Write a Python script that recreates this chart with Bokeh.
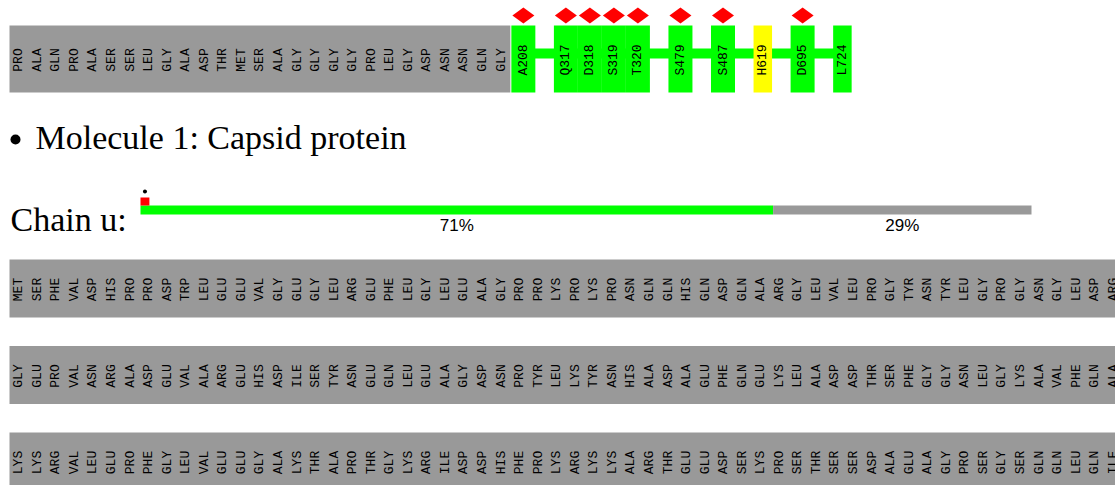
import math
from bokeh.plotting import figure
from bokeh.models import Range1d
from bokeh.core.properties import value
from bokeh.embed import file_html
from bokeh.resources import INLINE

# ---------------- data ----------------
top_grey_residues = ["PRO", "ALA", "GLN", "PRO", "ALA", "SER", "SER", "LEU", "GLY", "ALA",
                     "ASP", "THR", "MET", "SER", "ALA", "GLY", "GLY", "GLY", "GLY", "PRO",
                     "LEU", "GLY", "ASP", "ASN", "ASN", "GLN", "GLY"]
hl_labels = ["A208", "Q317", "D318", "S319", "T320", "S479", "S487", "H619", "D695", "L724"]
hl_numbers = [208, 317, 318, 319, 320, 479, 487, 619, 695, 724]
hl_colors = ["#00ff00", "#00ff00", "#00ff00", "#00ff00", "#00ff00", "#00ff00", "#00ff00",
             "#ffff00", "#00ff00", "#00ff00"]
hl_outlier = [True, True, True, True, True, True, True, False, True, False]

molecule_title = "Molecule 1: Capsid protein"
chain_label = "Chain u:"
chain_fracs = [71, 29]
chain_frac_labels = ["71%", "29%"]
chain_frac_colors = ["#00ff00", "#999999"]
chain_outlier_frac = [1.0]

seq_row1 = ["MET", "SER", "PHE", "VAL", "ASP", "HIS", "PRO", "PRO", "ASP", "TRP",
            "LEU", "GLU", "GLU", "VAL", "GLY", "GLU", "GLY", "LEU", "ARG", "GLU",
            "PHE", "LEU", "GLY", "LEU", "GLU", "ALA", "GLY", "PRO", "PRO", "LYS",
            "PRO", "LYS", "PRO", "ASN", "GLN", "GLN", "HIS", "GLN", "ASP", "GLN",
            "ALA", "ARG", "GLY", "LEU", "VAL", "LEU", "PRO", "GLY", "TYR", "ASN",
            "TYR", "LEU", "GLY", "PRO", "GLY", "ASN", "GLY", "LEU", "ASP", "ARG"]
seq_row2 = ["GLY", "GLU", "PRO", "VAL", "ASN", "ARG", "ALA", "ASP", "GLU", "VAL",
            "ALA", "ARG", "GLU", "HIS", "ASP", "ILE", "SER", "TYR", "ASN", "GLU",
            "GLN", "LEU", "GLU", "ALA", "GLY", "ASP", "ASN", "PRO", "TYR", "LEU",
            "LYS", "TYR", "ASN", "HIS", "ALA", "ASP", "ALA", "GLU", "PHE", "GLN",
            "GLU", "LYS", "LEU", "ALA", "ASP", "ASP", "THR", "SER", "PHE", "GLY",
            "GLY", "ASN", "LEU", "GLY", "LYS", "ALA", "VAL", "PHE", "GLN", "ALA"]
seq_row3 = ["LYS", "LYS", "ARG", "VAL", "LEU", "GLU", "PRO", "PHE", "GLY", "LEU",
            "VAL", "GLU", "GLU", "GLY", "ALA", "LYS", "THR", "ALA", "PRO", "THR",
            "GLY", "LYS", "ARG", "ILE", "ASP", "ASP", "HIS", "PHE", "PRO", "LYS",
            "ARG", "LYS", "LYS", "ALA", "ARG", "THR", "GLU", "GLU", "ASP", "SER",
            "LYS", "PRO", "SER", "THR", "SER", "SER", "ASP", "ALA", "GLU", "ALA",
            "GLY", "PRO", "SER", "GLY", "SER", "GLN", "GLN", "LEU", "GLN", "ILE"]

# ---------------- layout ----------------
W, H = 1115, 485
GREY = "#999999"
SLOT = 18.55
X0 = 9.0
MONO = value("Liberation Mono")
SERIF = value("Liberation Serif")
SANS = value("Liberation Sans")

p = figure(width=W, height=H, x_range=Range1d(0, W), y_range=Range1d(H, 0),
           output_backend="svg", toolbar_location=None, min_border=0)
p.axis.visible = False
p.grid.visible = False
p.outline_line_color = None
p.background_fill_color = "white"


def residue_row(names, y_top, height):
    n = len(names)
    p.quad(left=[X0], right=[X0 + n * SLOT], top=[y_top], bottom=[y_top + height],
           fill_color=GREY, line_color=None)
    xs = [X0 + (i + 0.5) * SLOT for i in range(n)]
    ys = [y_top + height / 2 + 1] * n
    p.text(x=xs, y=ys, text=names, angle=math.pi / 2, text_font=MONO,
           text_font_size="13px", text_align="center", text_baseline="middle",
           text_color="black")


# top strip
TOP_Y, TOP_H = 25, 67
residue_row(top_grey_residues, TOP_Y, TOP_H)

# highlighted residues
lefts, rights = [], []
x = X0 + len(top_grey_residues) * SLOT + 1
for i, num in enumerate(hl_numbers):
    if i > 0 and num != hl_numbers[i - 1] + 1:
        x += SLOT
    w = 24 if hl_outlier[i] else 18.5
    lefts.append(x)
    rights.append(x + w)
    x += w
centers = [(l + r) / 2 for l, r in zip(lefts, rights)]

p.quad(left=[centers[0]], right=[centers[-1]], top=[48], bottom=[58],
       fill_color="#00ff00", line_color=None)
p.quad(left=lefts, right=rights, top=[TOP_Y] * len(lefts), bottom=[TOP_Y + TOP_H] * len(lefts),
       fill_color=hl_colors, line_color=None)
p.text(x=centers, y=[TOP_Y + TOP_H / 2 + 1] * len(centers), text=hl_labels, angle=math.pi / 2,
       text_font=MONO, text_font_size="13px", text_align="center", text_baseline="middle",
       text_color="black")

dxs, dys = [], []
for c, o in zip(centers, hl_outlier):
    if o:
        dxs.append([c - 11, c, c + 11, c])
        dys.append([15, 7, 15, 23])
p.patches(xs=dxs, ys=dys, fill_color="#ff0000", line_color=None)

# molecule title
p.scatter(x=[15], y=[139], size=10, marker="circle", fill_color="black", line_color=None)
p.text(x=[35], y=[137], text=[molecule_title], text_font=SERIF, text_font_size="34px",
       text_baseline="alphabetic", text_align="left", text_color="black")

# chain bar
p.text(x=[10], y=[219], text=[chain_label], text_font=SERIF, text_font_size="34px",
       text_baseline="alphabetic", text_align="left", text_color="black")
BAR_L, BAR_R = 140, 1031
scale = (BAR_R - BAR_L) / 100.0
seg_l, seg_r, acc = [], [], 0
for f in chain_fracs:
    seg_l.append(BAR_L + acc * scale)
    acc += f
    seg_r.append(BAR_L + acc * scale)
p.quad(left=seg_l, right=seg_r, top=[205] * 2, bottom=[214] * 2,
       fill_color=chain_frac_colors, line_color=None)
p.text(x=[(a + b) / 2 for a, b in zip(seg_l, seg_r)], y=[225] * 2, text=chain_frac_labels,
       text_font=SANS, text_font_size="17px", text_align="center",
       text_baseline="alphabetic", text_color="black")
p.quad(left=[BAR_L], right=[BAR_L + chain_outlier_frac[0] * scale], top=[197], bottom=[205],
       fill_color="#ff0000", line_color=None)
p.scatter(x=[BAR_L + chain_outlier_frac[0] * scale / 2], y=[191], size=4, marker="circle",
          fill_color="black", line_color=None)

# sequence rows
ROW_TOP = 259
ROW_PITCH = 86.5
ROW_H = 58
for k, row in enumerate([seq_row1, seq_row2, seq_row3]):
    residue_row(row, ROW_TOP + k * ROW_PITCH, ROW_H)

open("out.html", "w").write(file_html(p, INLINE))
